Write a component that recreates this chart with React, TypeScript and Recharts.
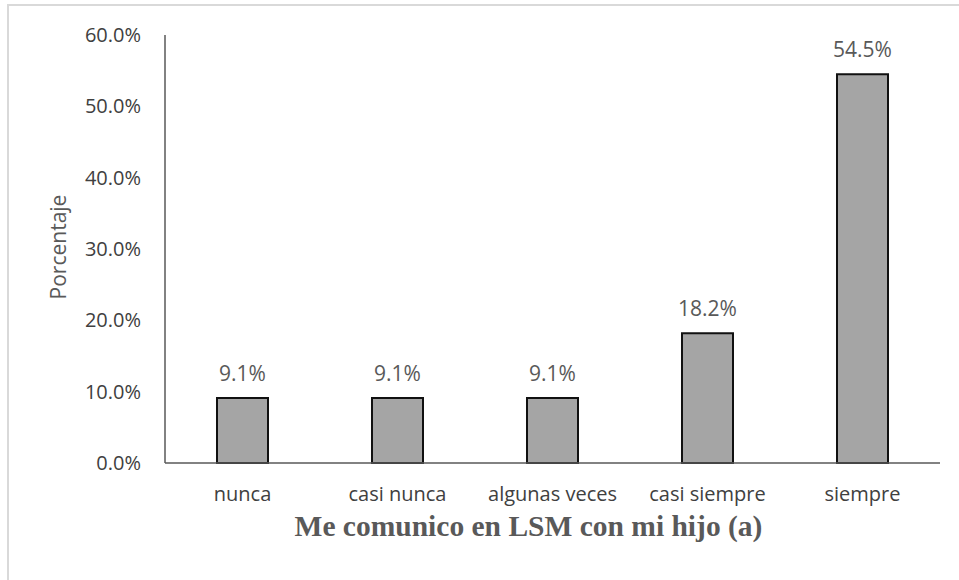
import React from "react";
import { BarChart, Bar, XAxis, YAxis, LabelList } from "recharts";

// Frequency of communication in LSM (percent of respondents)
const categories = ["nunca", "casi nunca", "algunas veces", "casi siempre", "siempre"];
const percentages = [9.1, 9.1, 9.1, 18.2, 54.5];
const yTicks = [0, 10, 20, 30, 40, 50, 60];

const data = categories.map((name, i) => ({ name, value: percentages[i] }));

const SANS = "'Open Sans', 'Noto Sans', sans-serif";
const SERIF = "'Liberation Serif', 'Times New Roman', serif";

const pct = (v: number) => `${Number(v).toFixed(1)}%`;

const XTitle = (props: any) => {
  const vb = props.viewBox || {};
  const cx = vb.x + vb.width / 2 - 24;
  return (
    <text
      x={cx}
      y={vb.y + vb.height + 43}
      textAnchor="middle"
      fontFamily={SERIF}
      fontWeight="bold"
      fontSize={29.5}
      fill="#595959"
    >
      Me comunico en LSM con mi hijo (a)
    </text>
  );
};

const YTitle = (props: any) => {
  const vb = props.viewBox || {};
  const cx = vb.x - 27;
  const cy = vb.y + vb.height / 2 - 2;
  return (
    <text
      x={cx}
      y={cy}
      transform={`rotate(-90, ${cx}, ${cy})`}
      textAnchor="middle"
      dominantBaseline="central"
      fontFamily={SANS}
      fontSize={21}
      fill="#595959"
    >
      Porcentaje
    </text>
  );
};

export default function App() {
  return (
    <div style={{ position: "absolute", left: 0, top: 0, width: 959, height: 580, background: "#fff", overflow: "hidden" }}>
      <div
        style={{
          position: "absolute",
          left: 7,
          top: 4,
          width: 1000,
          height: 1000,
          borderTop: "2px solid #d9d9d9",
          borderLeft: "2px solid #d9d9d9",
        }}
      />
      <div style={{ position: "absolute", left: 0, top: 0 }}>
        <BarChart
          width={959}
          height={580}
          data={data}
          margin={{ top: 35, right: 19, bottom: 87, left: 85 }}
          barCategoryGap={52}
        >
          <XAxis
            dataKey="name"
            height={30}
            tickLine={false}
            tickSize={6}
            tickMargin={18}
            axisLine={{ stroke: "#595959", strokeWidth: 1.5 }}
            tick={{ fill: "#404040", fontSize: 20, fontFamily: SANS }}
            interval={0}
            label={{ content: XTitle }}
          />
          <YAxis
            width={80}
            domain={[0, 60]}
            ticks={yTicks}
            tickFormatter={pct}
            tickLine={false}
            tickSize={6}
            tickMargin={18}
            axisLine={{ stroke: "#595959", strokeWidth: 1.5 }}
            tick={{ fill: "#404040", fontSize: 20, fontFamily: SANS }}
            label={{ content: YTitle }}
          />
          <Bar
            dataKey="value"
            fill="#a5a5a5"
            stroke="#111111"
            strokeWidth={2}
            isAnimationActive={false}
          >
            <LabelList
              dataKey="value"
              position="top"
              offset={17}
              formatter={pct}
              fill="#595959"
              fontSize={21}
              fontFamily={SANS}
            />
          </Bar>
        </BarChart>
      </div>
    </div>
  );
}
